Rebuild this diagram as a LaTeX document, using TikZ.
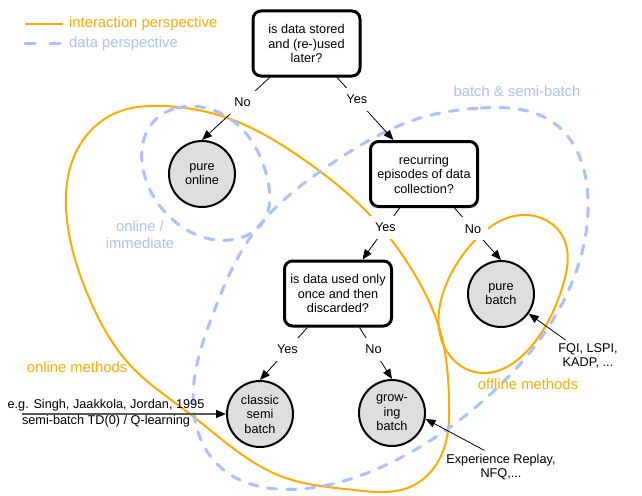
\documentclass[tikz,border=0pt]{standalone}
\usepackage{fontspec}
\setmainfont{Liberation Sans}
\usetikzlibrary{arrows.meta,calc,shapes.geometric,hobby}
\definecolor{interorange}{RGB}{255,170,0}
\definecolor{datablue}{RGB}{170,192,255}
\newcommand{\labelfont}{\fontsize{12.7}{14.5}\selectfont}
\newcommand{\groupfont}{\fontsize{14.8}{17}\selectfont}

\tikzset{
  question/.style={draw, line width=3pt, rounded corners=8pt, fill=white, minimum width=107pt, minimum height=65pt, align=center, font=\labelfont},
  method/.style={circle, draw, line width=2pt, fill=black!13, minimum size=66pt, inner sep=0pt, align=center, font=\labelfont},
  answer/.style={fill=white, inner sep=7pt, font=\labelfont},
  flow/.style={-{Triangle[length=10pt,width=8pt]}, line width=0.8pt},
  interaction/.style={interorange, line width=2pt},
  dataview/.style={datablue, line width=3pt, line cap=round, dash pattern=on 9pt off 10pt},
}

\begin{document}
\begin{tikzpicture}[x=1pt, y=-1pt]
      \useasboundingbox (0, 0) rectangle (642, 495);

      % legend
      \coordinate (legA) at (25, 24);
      \coordinate (legB) at (25, 44);
      \node[anchor=west, inner xsep=6pt, font=\groupfont, text=interorange] (legint) at (63, 24) {interaction perspective};
      \node[anchor=west, inner xsep=6pt, font=\groupfont, text=datablue] (legdata) at (63, 44) {data perspective};
      \draw[interaction] (legA) -- (legint.west);
      \draw[datablue, line width=3pt, line cap=round, dash pattern=on 10pt off 15pt] (legB) -- (legdata.west);

      % interaction perspective
      \draw[interaction, use Hobby shortcut, closed=true] (163, 106) .. (233, 120) .. (300, 157) .. (368, 213)
        .. (418, 280) .. (441, 334) .. (449, 397) .. (440, 458) .. (410, 487) .. (354, 490) .. (283, 477)
        .. (190, 414) .. (130, 365) .. (90, 300) .. (67, 220) .. (77, 150) .. (118, 112);
      \draw[interaction, use Hobby shortcut, closed=true] (524, 215) .. (563, 237) .. (563, 285) .. (528, 350)
        .. (481, 373) .. (446, 350) .. (444, 290) .. (469, 247);

      % data perspective
      \draw[dataview, use Hobby shortcut, closed=true] (177, 108) .. (240, 127) .. (267, 177) .. (263, 222)
        .. (230, 240) .. (173, 220) .. (145, 177) .. (155, 120);
      \draw[dataview, use Hobby shortcut, closed=true] (481, 108) .. (554, 123) .. (588, 200) .. (564, 300)
        .. (484, 400) .. (388, 464) .. (300, 489) .. (217, 464) .. (193, 400) .. (213, 314) .. (252, 235)
        .. (337, 160) .. (420, 118);

      \node[font=\groupfont, text=datablue] (batchlab) at (517, 91) {batch \& semi-batch};
      \node[font=\groupfont, text=datablue, align=center] (onlinelab) at (140, 234.5) {online /\\immediate};
      \node[font=\groupfont, text=interorange] (onmethods) at (77, 367) {online methods};
      \node[font=\groupfont, text=interorange] (offmethods) at (528, 384) {offline methods};

      % questions
      \node[question] (q1) at (306.5, 43.5) {is data stored\\and (re-)used\\later?};
      \node[question] (q2) at (424, 174) {recurring\\episodes of data\\collection?};
      \node[question] (q3) at (338, 293.5) {is data used only\\once and then\\discarded?};

      % methods
      \node[method] (online) at (202, 174) {pure\\online};
      \node[method] (pbatch) at (501, 294) {pure\\batch};
      \node[method] (classic) at (260, 414) {classic\\semi\\batch};
      \node[method] (growing) at (392, 413) {grow-\\ing\\batch};

      \draw[flow] (q1) -- node[answer, pos=0.4] {No} (online.north);
      \draw[flow] (q1) -- node[answer, pos=0.35] {Yes} (q2);
      \draw[flow] (q2) -- node[answer, pos=0.38] {Yes} (q3);
      \draw[flow] (q2) -- node[answer, pos=0.4] {No} (pbatch.north);
      \draw[flow] (q3) -- node[answer, pos=0.42] {Yes} (classic.north);
      \draw[flow] (q3) -- node[answer, pos=0.43] {No} (growing.north);

      % examples
      \node[font=\labelfont, align=center] (fqi) at (588, 356) {FQI, LSPI,\\KADP, ...};
      \node[font=\labelfont, align=center] (exprep) at (501, 467) {Experience Replay,\\NFQ,...};
      \node[font=\labelfont, align=center] (singh) at (106, 413) {e.g. Singh, Jaakkola, Jordan, 1995\\[1.5pt]semi-batch TD(0) / Q-learning};
      \coordinate (singhstart) at (22, 414);

      \draw[flow] (fqi) -- (pbatch);
      \draw[flow] (exprep.135) -- (growing.-10);
      \draw[-{Triangle[length=10pt,width=8pt,black]}, draw=black!65, line width=1.5pt] (singhstart) -- (classic);
\end{tikzpicture}
\end{document}
